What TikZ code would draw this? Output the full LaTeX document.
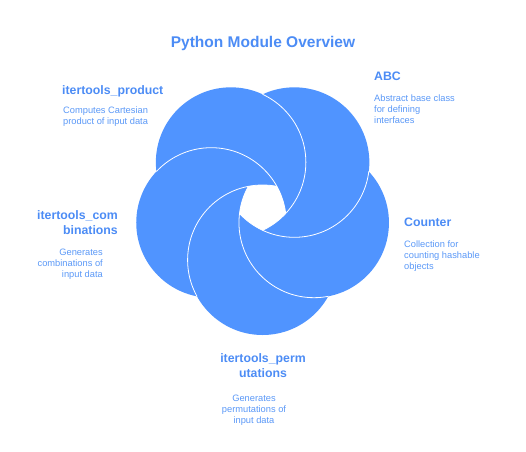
\documentclass[tikz,border=0pt]{standalone}
\usepackage{fontspec}
\setmainfont{Liberation Sans}
\usetikzlibrary{positioning,calc}
\definecolor{petalblue}{HTML}{5094FF}
\definecolor{inkblue}{HTML}{4C8CF5}
\definecolor{softblue}{HTML}{5A98F7}
\begin{document}
\begin{tikzpicture}[
        x=1pt, y=1pt,
        every node/.style={inner sep=0pt},
        petal/.style={fill=petalblue},
        rim/.style={draw=white, line width=0.8pt},
        title/.style={font=\fontsize{15.5}{18}\selectfont\bfseries, text=inkblue},
        heading/.style={font=\fontsize{12.3}{15}\selectfont\bfseries, text=inkblue},
        blurb/.style={font=\fontsize{9.3}{11}\selectfont, text=softblue}
    ]
        \useasboundingbox (0,0) rectangle (526,451);
        \coordinate (hub) at (262.6,245);
        \foreach \name/\ang in {perm/-90, counter/-18, abc/54, product/126, comb/198}
            \coordinate (\name) at ($(hub)+(\ang:54)$);
        % discs
        \foreach \name in {perm, counter, abc, product, comb}
            \fill[petal] (\name) circle (75);
        % each rim shows over the next disc
        \foreach \upper/\lower in {product/abc, abc/counter, counter/perm, perm/comb, comb/product} {
            \begin{scope}
                \clip (\lower) circle (75);
                \draw[rim] (\upper) circle (75);
            \end{scope}
        }
        % open centre
        \begin{scope}
            \clip (perm) circle (75);
            \clip (counter) circle (75);
            \clip (abc) circle (75);
            \clip (product) circle (75);
            \fill[white] (comb) circle (75);
        \end{scope}
        \node[title, anchor=base] (caption) at (263,404) {Python Module Overview};
        \node[heading, anchor=base west] (producthead) at (62,356.5) {itertools\_product};
        \node[blurb, anchor=north west, align=left] (producttext) at (63,344.2) {Computes Cartesian\\product of input data};
        \node[heading, anchor=base west] (abchead) at (374,371) {ABC};
        \node[blurb, anchor=north west, align=left] (abctext) at (374,356.7) {Abstract base class\\for defining\\interfaces};
        \node[heading, anchor=north east, align=right] (combhead) at (118,240.8) {itertools\_com\\binations};
        \node[blurb, anchor=north east, align=right] (combtext) at (103,202.2) {Generates\\combinations of\\input data};
        \node[heading, anchor=base west] (counterhead) at (404,224.5) {Counter};
        \node[blurb, anchor=north west, align=left] (countertext) at (404,210.4) {Collection for\\counting hashable\\objects};
        \node[heading, anchor=north, align=center] (permhead) at (263,97.3) {itertools\_perm\\utations};
        \node[blurb, anchor=north, align=center] (permtext) at (254,56.2) {Generates\\permutations of\\input data};
    \end{tikzpicture}
\end{document}
